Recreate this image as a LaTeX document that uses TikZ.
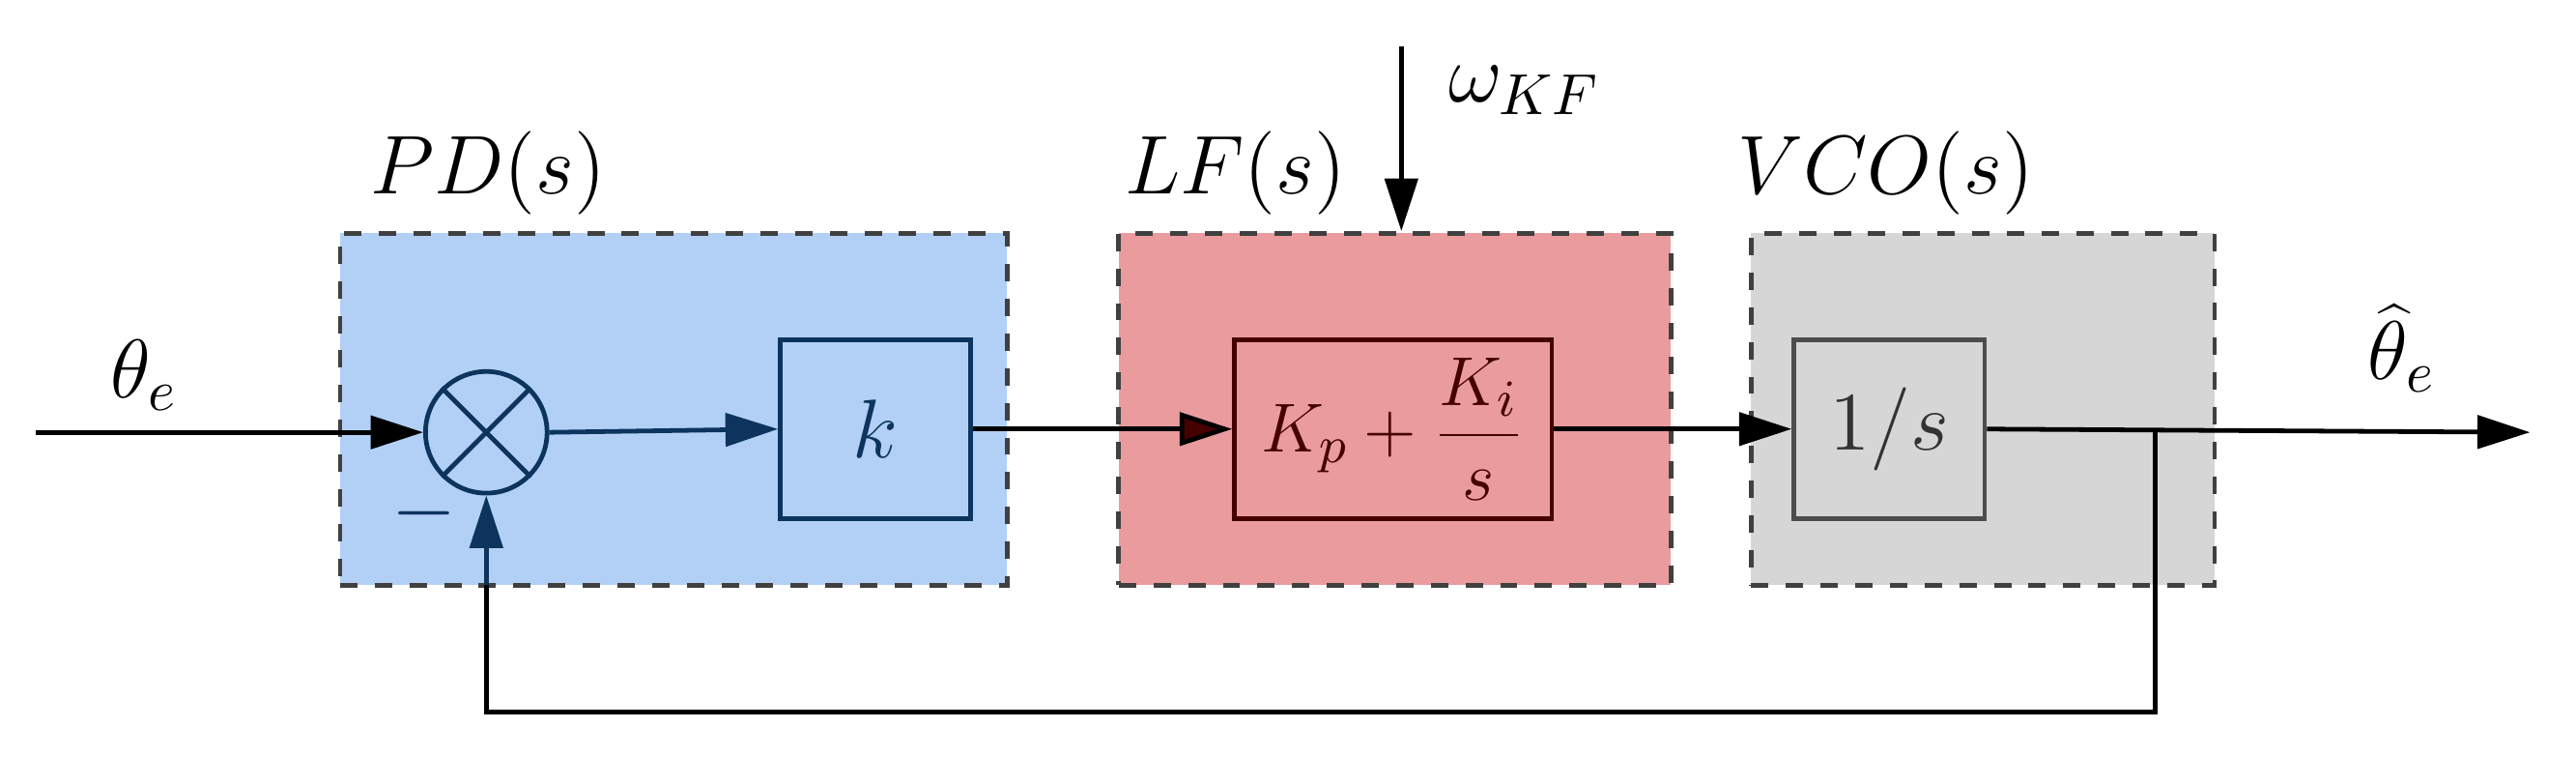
\documentclass[tikz,border=0pt]{standalone}
\usetikzlibrary{arrows.meta}
\begin{document}
\begin{tikzpicture}[x=0.01cm,y=-0.01cm,font=\fontsize{14}{16}\selectfont,
  grp/.style={draw=black!75,dashed,line width=0.8pt},
  blk/.style={draw=#1,line width=0.8pt,minimum width=116*0.01cm,minimum height=109*0.01cm,inner sep=0pt},
  arr/.style={-{Triangle[length=0.32cm,width=0.2cm]},line width=0.8pt},
  ln/.style={line width=0.8pt}]
\definecolor{pdblue}{RGB}{178,208,245}
\definecolor{lfred}{RGB}{234,155,158}
\definecolor{vcogray}{RGB}{214,214,214}
\definecolor{dblue}{RGB}{12,52,92}
\definecolor{dred}{RGB}{70,0,0}
\useasboundingbox (0,0) rectangle (1568,460);
\node[grp,fill=pdblue,minimum width=406*0.01cm,minimum height=214*0.01cm,inner sep=0pt] (pd) at (410,249) {};
\node[grp,fill=lfred,minimum width=336*0.01cm,minimum height=214*0.01cm,inner sep=0pt] (lf) at (849,249) {};
\node[grp,fill=vcogray,minimum width=282*0.01cm,minimum height=214*0.01cm,inner sep=0pt] (vco) at (1207,249) {};
\node (pdl) at (297,105) {$PD(s)$};
\node (lfl) at (752,105) {$LF(s)$};
\node (vcol) at (1148,105) {$VCO(s)$};
\node[circle,draw=dblue,line width=0.8pt,minimum size=74*0.01cm,inner sep=0pt] (sum) at (296,263) {};
\draw[dblue,line width=0.8pt] (sum.north west) -- (sum.south east) (sum.north east) -- (sum.south west);
\node[blk=dblue,text=dblue] (k) at (533,261) {$k$};
\node[blk=dred,minimum width=193*0.01cm,text=dred,font=\fontsize{12.5}{14}\selectfont] (pi) at (848,261) {$K_p+\displaystyle\frac{K_i}{s}$};
\node[blk=black!70,text=black!80] (int) at (1150,261) {$1/s$};
\coordinate (in) at (22,263);
\coordinate (out) at (1540,263);
\coordinate (tap) at (1312,263);
\coordinate (fb1) at (1312,433);
\coordinate (fb2) at (296,433);
\coordinate (wtop) at (853,28);
\node (thin) at (88,228) {$\theta_e$};
\node (thout) at (1462,212) {$\widehat{\theta}_e$};
\node (w) at (928,55) {$\omega_{KF}$};
\node[dblue] (minus) at (258,312) {$-$};
\draw[arr] (in) -- (sum.west);
\draw[arr,dblue] (sum.east) -- (k.west);
\draw[-{Triangle[length=0.32cm,width=0.2cm,fill=dred]},ln] (k.east) -- (pi.west);
\draw[arr] (pi.east) -- (int.west);
\draw[arr] (int.east) -- (out);
\draw[ln] (tap) -- (fb1) -- (fb2) -- (296,330);
\draw[arr,dblue] (296,356) -- (sum.south);
\draw[arr] (wtop) -- (lf.north -| wtop);
\end{tikzpicture}
\end{document}
